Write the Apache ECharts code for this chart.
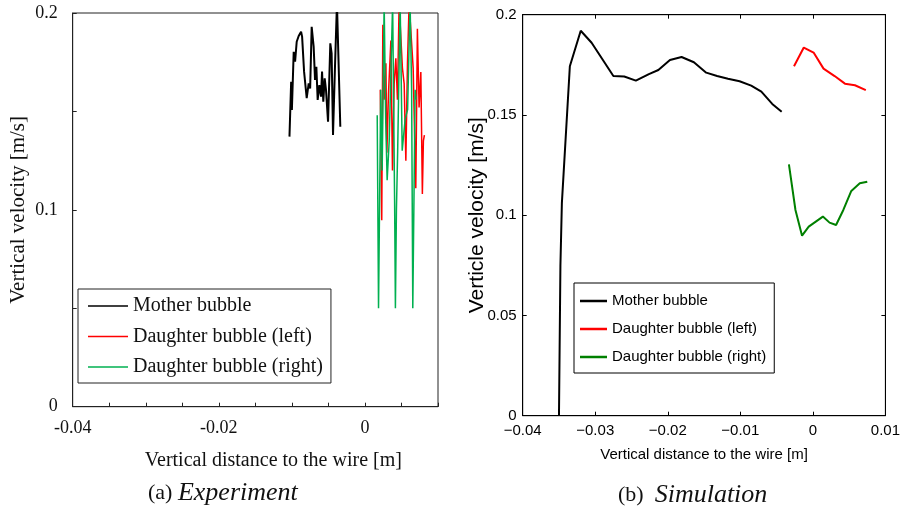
<!DOCTYPE html>
<html><head><meta charset="utf-8">
<script src="https://cdn.jsdelivr.net/npm/echarts@6/dist/echarts.min.js"></script>
<style>html,body{margin:0;padding:0;background:#fff}#c{width:903px;height:510px}</style>
</head><body><div id="c"></div>
<script>
// ---------- Data: (a) Experiment ----------
const expMotherX = [-0.01033,-0.0101,-0.0100,-0.00975,-0.00956,-0.00934,-0.00907,-0.00874,-0.0086,-0.00833,-0.00797,-0.0077,-0.0075,-0.00729,-0.00702,-0.00683,-0.00665,-0.00647,-0.00624,-0.00601,-0.00587,-0.0057,-0.00551,-0.00533,-0.00505,-0.00474,-0.00456,-0.00437,-0.0041,-0.00383,-0.0036,-0.00337];
const expMotherY = [0.1372,0.1651,0.1507,0.1803,0.1753,0.1854,0.1883,0.1905,0.188,0.1702,0.1567,0.1643,0.1617,0.193,0.1829,0.166,0.1727,0.1558,0.1634,0.1575,0.1702,0.1549,0.1668,0.1609,0.1448,0.1846,0.1795,0.138,0.1727,0.205,0.205,0.1422];
const expLeftX = [0.0021,0.0023,0.00245,0.00263,0.00287,0.0030,0.00322,0.00355,0.00377,0.0040,0.00423,0.00445,0.00468,0.00491,0.00513,0.00537,0.0056,0.00582,0.00605,0.00628,0.0066,0.00696,0.00718,0.00741,0.00765,0.00786,0.0080,0.00814];
const expLeftY = [0.161,0.0947,0.194,0.156,0.1745,0.129,0.159,0.186,0.120,0.164,0.177,0.156,0.205,0.205,0.172,0.164,0.125,0.1745,0.205,0.205,0.172,0.111,0.192,0.152,0.170,0.108,0.135,0.138];
const expRightX = [0.00168,0.00186,0.0020,0.00216,0.00236,0.00263,0.00284,0.00304,0.00332,0.00379,0.00406,0.00417,0.00431,0.00448,0.00482,0.0051,0.0055,0.00584,0.00618,0.00639,0.00655,0.00669,0.00687,0.0070];
const expRightY = [0.148,0.050,0.050,0.161,0.120,0.205,0.146,0.115,0.135,0.205,0.105,0.050,0.100,0.130,0.205,0.130,0.146,0.151,0.205,0.161,0.050,0.050,0.161,0.156];

// ---------- Data: (b) Simulation ----------
const simMotherX = [-0.0350,-0.0348,-0.0346,-0.0335,-0.0320,-0.0305,-0.0275,-0.0260,-0.0244,-0.0226,-0.0213,-0.0197,-0.0181,-0.0164,-0.0147,-0.0132,-0.0117,-0.0101,-0.0085,-0.0071,-0.0056,-0.0043];
const simMotherY = [0,0.075,0.106,0.1743,0.192,0.186,0.1694,0.1692,0.1671,0.1704,0.1724,0.1774,0.1789,0.1763,0.1711,0.1694,0.1681,0.1668,0.1646,0.1616,0.1555,0.1516];
const simLeftX = [-0.0026,-0.00125,0.0001,0.00147,0.0030,0.00442,0.0058,0.0073];
const simLeftY = [0.1743,0.1836,0.1811,0.1731,0.1694,0.1656,0.1648,0.1624];
const simRightX = [-0.0033,-0.0024,-0.00149,-0.00057,0.00138,0.0023,0.0032,0.0042,0.0053,0.00647,0.0075];
const simRightY = [0.1254,0.1026,0.0898,0.0943,0.0993,0.0963,0.0951,0.1026,0.1121,0.1159,0.1167];

// ---------- Tick labels ----------
const expXTickLabels = ['-0.04','','','','-0.02','','','','0','',''];
const expYTickLabels = ['0','','0.1','','0.2'];
const simXTickLabels = ['\u22120.04','\u22120.03','\u22120.02','\u22120.01','0','0.01'];
const simYTickLabels = ['0','0.05','0.1','0.15','0.2'];

const seriesNames = ['Mother bubble','Daughter bubble (left)','Daughter bubble (right)'];
const expColors = ['#000000','#ff0000','#00b050'];
const simColors = ['#000000','#ff0000','#008000'];

const zip = (xs, ys) => xs.map((x, i) => [x, ys[i]]);
const SERIF = '"Liberation Serif","Times New Roman",serif';
const SANS = '"Liberation Sans",Arial,sans-serif';

const chart = echarts.init(document.getElementById('c'), null, {renderer: 'canvas'});

function lineSeries(name, data, color, width, xi, yi) {
  return {type: 'line', name, data, xAxisIndex: xi, yAxisIndex: yi, symbol: 'none', showSymbol: false,
    lineStyle: {color, width}, itemStyle: {color}, clip: true, animation: false};
}
function frameAxisLine(color) { return {show: true, onZero: false, lineStyle: {color, width: 1}}; }

const option = {
  animation: false,
  grid: [
    {left: 72.7, top: 13, width: 365.3, height: 393.7, show: true, borderColor: '#222', borderWidth: 1, backgroundColor: 'transparent'},
    {left: 522.7, top: 14.7, width: 366, height: 401, show: true, borderColor: '#000', borderWidth: 1, backgroundColor: 'transparent'}
  ],
  xAxis: [
    {type: 'value', gridIndex: 0, min: -0.04, max: 0.01, interval: 0.005,
      axisLine: frameAxisLine('#222'),
      axisTick: {show: true, inside: true, length: 4, lineStyle: {color: '#222'}},
      splitLine: {show: false},
      axisLabel: {margin: 13, color: '#111', fontFamily: SERIF, fontSize: 18, formatter: (v, i) => expXTickLabels[i] ?? ''},
      name: 'Vertical distance to the wire [m]', nameLocation: 'middle', nameGap: 44,
      nameTextStyle: {color: '#111', fontFamily: SERIF, fontSize: 20, padding: [0, 0, 0, 36]}},
    {type: 'value', gridIndex: 1, min: -0.04, max: 0.01, interval: 0.01,
      axisLine: frameAxisLine('#000'),
      axisTick: {show: true, inside: true, length: 4, lineStyle: {color: '#000'}},
      splitLine: {show: false},
      axisLabel: {margin: 8, color: '#000', fontFamily: SANS, fontSize: 15, formatter: (v, i) => simXTickLabels[i] ?? ''},
      name: 'Vertical distance to the wire [m]', nameLocation: 'middle', nameGap: 32,
      nameTextStyle: {color: '#000', fontFamily: SANS, fontSize: 15}},
    {type: 'value', gridIndex: 1, position: 'top', min: -0.04, max: 0.01, interval: 0.01,
      axisLine: frameAxisLine('#000'),
      axisTick: {show: true, inside: true, length: 4, lineStyle: {color: '#000'}},
      splitLine: {show: false}, axisLabel: {show: false}}
  ],
  yAxis: [
    {type: 'value', gridIndex: 0, min: 0, max: 0.2, interval: 0.05,
      axisLine: frameAxisLine('#222'),
      axisTick: {show: true, inside: true, length: 4, lineStyle: {color: '#222'}},
      splitLine: {show: false},
      axisLabel: {margin: 15, color: '#111', fontFamily: SERIF, fontSize: 18, formatter: (v, i) => expYTickLabels[i] ?? ''},
      name: 'Vertical velocity [m/s]', nameLocation: 'middle', nameGap: 44,
      nameTextStyle: {color: '#111', fontFamily: SERIF, fontSize: 21}},
    {type: 'value', gridIndex: 1, min: 0, max: 0.2, interval: 0.05,
      axisLine: frameAxisLine('#000'),
      axisTick: {show: true, inside: true, length: 4, lineStyle: {color: '#000'}},
      splitLine: {show: false},
      axisLabel: {margin: 6, color: '#000', fontFamily: SANS, fontSize: 15, formatter: (v, i) => simYTickLabels[i] ?? ''},
      name: 'Verticle velocity [m/s]', nameLocation: 'middle', nameGap: 35, nameMoveOverlap: false,
      nameTextStyle: {color: '#000', fontFamily: SANS, fontSize: 21}},
    {type: 'value', gridIndex: 1, position: 'right', min: 0, max: 0.2, interval: 0.05,
      axisLine: frameAxisLine('#000'),
      axisTick: {show: true, inside: true, length: 4, lineStyle: {color: '#000'}},
      splitLine: {show: false}, axisLabel: {show: false}}
  ],
  legend: [
    {left: 78, top: 289, orient: 'vertical', itemGap: 10.5, itemWidth: 40, itemHeight: 1.5, icon: 'rect',
      padding: [7, 8, 6, 10], borderColor: '#222', borderWidth: 1, backgroundColor: '#fff',
      selectedMode: false, textStyle: {fontFamily: SERIF, fontSize: 20, color: '#111', lineHeight: 20},
      data: seriesNames.map((n, i) => ({name: n, icon: 'rect', itemStyle: {color: expColors[i], borderWidth: 0}}))},
    {left: 574, top: 283, orient: 'vertical', itemGap: 12, itemWidth: 27, itemHeight: 2.5, icon: 'rect',
      padding: [10, 8, 8, 6], borderColor: '#000', borderWidth: 1, backgroundColor: '#fff',
      selectedMode: false, textStyle: {fontFamily: SANS, fontSize: 15, color: '#000', lineHeight: 16},
      data: seriesNames.map((n, i) => ({name: n, icon: 'rect', itemStyle: {color: simColors[i], borderWidth: 0}}))}
  ],
  graphic: [
    {type: 'text', left: 148, top: 480, style: {rich: {a: {fontFamily: SERIF, fontSize: 22, fill: '#111'}, b: {fontFamily: SERIF, fontStyle: 'italic', fontSize: 26, fill: '#111'}}, text: '{a|(a) }{b|Experiment}'}},
    {type: 'text', left: 618, top: 482, style: {rich: {a: {fontFamily: SERIF, fontSize: 22, fill: '#111'}, b: {fontFamily: SERIF, fontStyle: 'italic', fontSize: 26, fill: '#111'}}, text: '{a|(b)  }{b|Simulation}'}}
  ],
  series: [
    lineSeries(seriesNames[0], zip(expMotherX, expMotherY), expColors[0], 2, 0, 0),
    lineSeries(seriesNames[1], zip(expLeftX, expLeftY), expColors[1], 1.5, 0, 0),
    lineSeries(seriesNames[2], zip(expRightX, expRightY), expColors[2], 1.5, 0, 0),
    lineSeries(seriesNames[0], zip(simMotherX, simMotherY), simColors[0], 2, 1, 1),
    lineSeries(seriesNames[1], zip(simLeftX, simLeftY), simColors[1], 2, 1, 1),
    lineSeries(seriesNames[2], zip(simRightX, simRightY), simColors[2], 2, 1, 1)
  ]
};
chart.setOption(option);
</script></body></html>
